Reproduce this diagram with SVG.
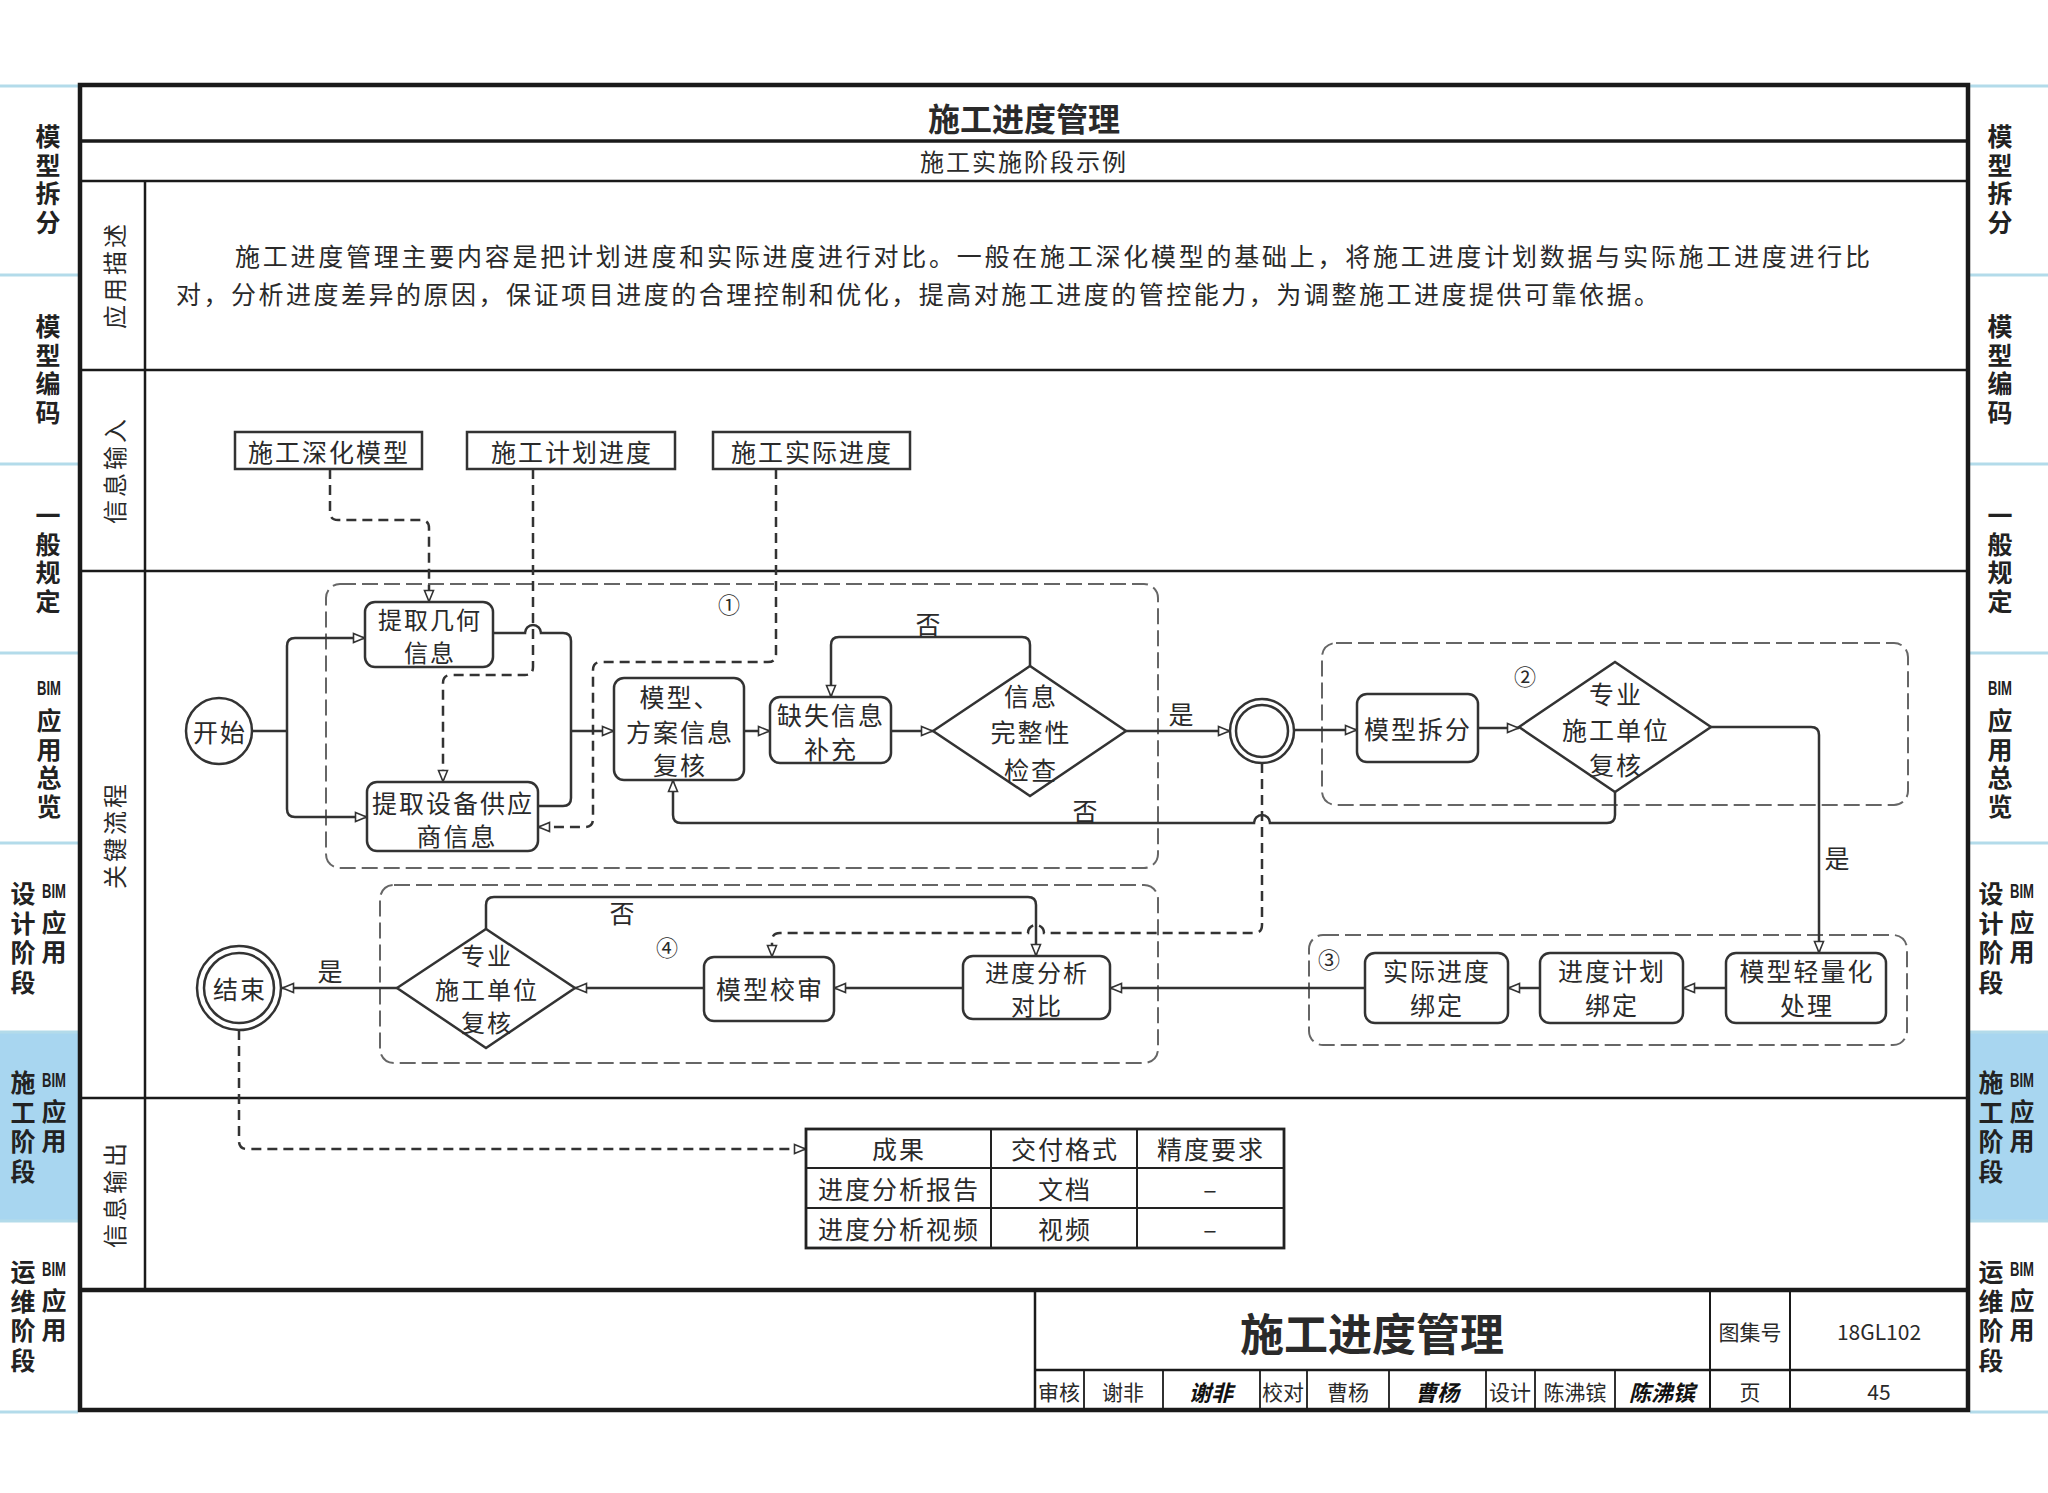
<svg xmlns="http://www.w3.org/2000/svg" width="2048" height="1493" viewBox="0 0 2048 1493">
<defs>
<marker id="ah" viewBox="0 0 14 12" refX="13" refY="6" markerWidth="14" markerHeight="12" markerUnits="userSpaceOnUse" orient="auto"><path d="M1.5,1.5 L12.5,6 L1.5,10.5 z" fill="#fff" stroke="#333" stroke-width="1.6"/></marker>
</defs>
<style>
.t{font-family:"Noto Sans CJK SC","Noto Sans",sans-serif;fill:#2a2a2a;}
.n{font-family:"Noto Sans CJK SC","Noto Sans",sans-serif;fill:#2a2a2a;font-size:25px;letter-spacing:2px;text-anchor:middle;dominant-baseline:central;}
.s{font-size:24px;}
.box{fill:#fff;stroke:#333;stroke-width:2.5;}
.ln{fill:none;stroke:#333;stroke-width:2.5;}
.dl{fill:none;stroke:#333;stroke-width:2.5;stroke-dasharray:10 6;}
.grp{fill:none;stroke:#666;stroke-width:2;stroke-dasharray:16 6;}
.fr{fill:none;stroke:#1a1a1a;}
.vt{font-family:"Noto Sans CJK SC",sans-serif;font-weight:bold;font-size:25px;fill:#222;text-anchor:middle;writing-mode:vertical-rl;letter-spacing:3.5px;}
.vt2{font-family:"Noto Sans CJK SC",sans-serif;font-weight:bold;font-size:25px;fill:#222;text-anchor:middle;writing-mode:vertical-rl;letter-spacing:4.5px;}
.bim{font-family:"Liberation Sans",sans-serif;font-weight:bold;font-size:20px;fill:#222;text-anchor:middle;dominant-baseline:central;}
.tsep{stroke:#b3dbea;stroke-width:3;}
.lbl{font-family:"Noto Sans CJK SC",sans-serif;font-size:24px;letter-spacing:3px;fill:#2a2a2a;text-anchor:middle;dominant-baseline:central;}
.tb{font-family:"Noto Sans CJK SC",sans-serif;font-size:21px;fill:#2a2a2a;text-anchor:middle;dominant-baseline:central;}
.sig{font-family:"Noto Sans CJK SC",sans-serif;font-size:22px;font-weight:bold;font-style:italic;fill:#111;text-anchor:middle;dominant-baseline:central;}
</style>
<rect x="0" y="0" width="2048" height="1493" fill="#fff"/>

<!-- side tabs -->
<g id="tabs">
<rect x="0" y="1032" width="78" height="189" fill="#a8d6f0"/>
<rect x="1970" y="1032" width="78" height="189" fill="#a8d6f0"/>
<g class="tsep">
<line x1="0" y1="86" x2="78" y2="86"/><line x1="0" y1="275" x2="78" y2="275"/><line x1="0" y1="464" x2="78" y2="464"/><line x1="0" y1="653" x2="78" y2="653"/><line x1="0" y1="843" x2="78" y2="843"/><line x1="0" y1="1032" x2="78" y2="1032"/><line x1="0" y1="1221" x2="78" y2="1221"/><line x1="0" y1="1412" x2="78" y2="1412"/>
<line x1="1970" y1="86" x2="2048" y2="86"/><line x1="1970" y1="275" x2="2048" y2="275"/><line x1="1970" y1="464" x2="2048" y2="464"/><line x1="1970" y1="653" x2="2048" y2="653"/><line x1="1970" y1="843" x2="2048" y2="843"/><line x1="1970" y1="1032" x2="2048" y2="1032"/><line x1="1970" y1="1221" x2="2048" y2="1221"/><line x1="1970" y1="1412" x2="2048" y2="1412"/>
</g>
<!-- left -->
<text class="vt" x="48" y="181">模型拆分</text>
<text class="vt" x="48" y="371">模型编码</text>
<text class="vt" x="48" y="560">一般规定</text>
<text class="bim" x="49" y="688" textLength="24" lengthAdjust="spacingAndGlyphs">BIM</text>
<text class="vt" x="49" y="765">应用总览</text>
<text class="vt2" x="23" y="940">设计阶段</text>
<text class="bim" x="54" y="891" textLength="24" lengthAdjust="spacingAndGlyphs">BIM</text>
<text class="vt2" x="54" y="939">应用</text>
<text class="vt2" x="23" y="1129">施工阶段</text>
<text class="bim" x="54" y="1080" textLength="24" lengthAdjust="spacingAndGlyphs">BIM</text>
<text class="vt2" x="54" y="1128">应用</text>
<text class="vt2" x="23" y="1318">运维阶段</text>
<text class="bim" x="54" y="1269" textLength="24" lengthAdjust="spacingAndGlyphs">BIM</text>
<text class="vt2" x="54" y="1317">应用</text>
<!-- right -->
<text class="vt" x="2000" y="181">模型拆分</text>
<text class="vt" x="2000" y="371">模型编码</text>
<text class="vt" x="2000" y="560">一般规定</text>
<text class="bim" x="2000" y="688" textLength="24" lengthAdjust="spacingAndGlyphs">BIM</text>
<text class="vt" x="2000" y="765">应用总览</text>
<text class="vt2" x="1991" y="940">设计阶段</text>
<text class="bim" x="2022" y="891" textLength="24" lengthAdjust="spacingAndGlyphs">BIM</text>
<text class="vt2" x="2022" y="939">应用</text>
<text class="vt2" x="1991" y="1129">施工阶段</text>
<text class="bim" x="2022" y="1080" textLength="24" lengthAdjust="spacingAndGlyphs">BIM</text>
<text class="vt2" x="2022" y="1128">应用</text>
<text class="vt2" x="1991" y="1318">运维阶段</text>
<text class="bim" x="2022" y="1269" textLength="24" lengthAdjust="spacingAndGlyphs">BIM</text>
<text class="vt2" x="2022" y="1317">应用</text>
</g>

<!-- frame -->
<g id="frame">
<rect class="fr" x="80" y="85" width="1888" height="1325" stroke-width="4.5"/>
<line class="fr" x1="80" y1="141" x2="1968" y2="141" stroke-width="3.5"/>
<line class="fr" x1="80" y1="181" x2="1968" y2="181" stroke-width="2.5"/>
<line class="fr" x1="145" y1="181" x2="145" y2="1290" stroke-width="2.5"/>
<line class="fr" x1="80" y1="370" x2="1968" y2="370" stroke-width="2.5"/>
<line class="fr" x1="80" y1="571" x2="1968" y2="571" stroke-width="2.5"/>
<line class="fr" x1="80" y1="1098" x2="1968" y2="1098" stroke-width="2.5"/>
<line class="fr" x1="80" y1="1290" x2="1968" y2="1290" stroke-width="4.5"/>
<text class="t" x="1024" y="131" font-size="32" font-weight="bold" text-anchor="middle">施工进度管理</text>
<text class="t" x="1024" y="171" font-size="24" letter-spacing="2" text-anchor="middle">施工实施阶段示例</text>
<text class="lbl" transform="translate(113,275) rotate(-90)">应用描述</text>
<text class="lbl" transform="translate(113,470) rotate(-90)">信息输入</text>
<text class="lbl" transform="translate(113,835) rotate(-90)">关键流程</text>
<text class="lbl" transform="translate(113,1194) rotate(-90)">信息输出</text>
<text class="t" x="235" y="266" font-size="25" textLength="1635" lengthAdjust="spacing">施工进度管理主要内容是把计划进度和实际进度进行对比。一般在施工深化模型的基础上，将施工进度计划数据与实际施工进度进行比</text>
<text class="t" x="176" y="304" font-size="25" textLength="1483" lengthAdjust="spacing">对，分析进度差异的原因，保证项目进度的合理控制和优化，提高对施工进度的管控能力，为调整施工进度提供可靠依据。</text>
</g>

<!-- title block -->
<g id="titleblock">
<line class="fr" x1="1035" y1="1290" x2="1035" y2="1410" stroke-width="2.5"/>
<line class="fr" x1="1035" y1="1370" x2="1968" y2="1370" stroke-width="2.5"/>
<line class="fr" x1="1710" y1="1290" x2="1710" y2="1410" stroke-width="2"/>
<line class="fr" x1="1790" y1="1290" x2="1790" y2="1410" stroke-width="2"/>
<g stroke="#1a1a1a" stroke-width="1.8">
<line x1="1084" y1="1370" x2="1084" y2="1410"/><line x1="1163" y1="1370" x2="1163" y2="1410"/><line x1="1260" y1="1370" x2="1260" y2="1410"/><line x1="1307" y1="1370" x2="1307" y2="1410"/><line x1="1389" y1="1370" x2="1389" y2="1410"/><line x1="1486" y1="1370" x2="1486" y2="1410"/><line x1="1535" y1="1370" x2="1535" y2="1410"/><line x1="1615" y1="1370" x2="1615" y2="1410"/>
</g>
<text class="t" x="1372" y="1332" font-size="44" font-weight="bold" text-anchor="middle" dominant-baseline="central">施工进度管理</text>
<text class="tb" x="1750" y="1331">图集号</text>
<text class="tb" x="1879" y="1331" font-family="Liberation Serif" font-size="24">18GL102</text>
<text class="tb" x="1059" y="1391">审核</text>
<text class="tb" x="1123" y="1391">谢非</text>
<text class="sig" x="1211" y="1391">谢非</text>
<text class="tb" x="1283" y="1391">校对</text>
<text class="tb" x="1348" y="1391">曹杨</text>
<text class="sig" x="1437" y="1391">曹杨</text>
<text class="tb" x="1510" y="1391">设计</text>
<text class="tb" x="1575" y="1391">陈沸镔</text>
<text class="sig" x="1662" y="1391">陈沸镔</text>
<text class="tb" x="1750" y="1391">页</text>
<text class="tb" x="1879" y="1391" font-family="Liberation Serif" font-size="24">45</text>
</g>

<!-- groups -->
<g id="groups">
<rect class="grp" x="326" y="584" width="832" height="284" rx="14"/>
<rect class="grp" x="1322" y="643" width="586" height="162" rx="14"/>
<rect class="grp" x="1309" y="935" width="598" height="110" rx="14"/>
<rect class="grp" x="380" y="885" width="778" height="178" rx="14"/>
<text class="t" x="729" y="603" font-size="22" text-anchor="middle" dominant-baseline="central">①</text>
<text class="t" x="1525" y="675" font-size="22" text-anchor="middle" dominant-baseline="central">②</text>
<text class="t" x="1329" y="958" font-size="22" text-anchor="middle" dominant-baseline="central">③</text>
<text class="t" x="667" y="946" font-size="22" text-anchor="middle" dominant-baseline="central">④</text>
</g>

<!-- connectors -->
<g id="connectors">
<path class="dl" d="M330,469 V512 Q330,520 338,520 H421 Q429,520 429,528 V602" marker-end="url(#ah)"/>
<path class="dl" d="M533,469 V667 Q533,675 525,675 H451 Q443,675 443,683 V782" marker-end="url(#ah)"/>
<path class="dl" d="M776,469 V654 Q776,662 768,662 H601 Q593,662 593,670 V819 Q593,827 585,827 H538" marker-end="url(#ah)"/>
<path class="dl" d="M1262,763 V925 Q1262,933 1254,933 H1044 A8,8 0 0 0 1028,933 H780 Q772,933 772,941 V957" marker-end="url(#ah)"/>
<path class="dl" d="M239,1030 V1141 Q239,1149 247,1149 H806" marker-end="url(#ah)"/>

<path class="ln" d="M252,731 H287"/>
<path class="ln" d="M287,731 V646 Q287,638 295,638 H365" marker-end="url(#ah)"/>
<path class="ln" d="M287,731 V809 Q287,817 295,817 H367" marker-end="url(#ah)"/>
<path class="ln" d="M493,633 H525 A8,8 0 0 1 541,633 H563 Q571,633 571,641 V731"/>
<path class="ln" d="M538,806 H563 Q571,806 571,798 V731"/>
<path class="ln" d="M571,731 H614" marker-end="url(#ah)"/>
<path class="ln" d="M744,731 H770" marker-end="url(#ah)"/>
<path class="ln" d="M891,731 H933" marker-end="url(#ah)"/>
<path class="ln" d="M1030,666 V645 Q1030,637 1022,637 H839 Q831,637 831,645 V697" marker-end="url(#ah)"/>
<path class="ln" d="M1126,731 H1230" marker-end="url(#ah)"/>
<path class="ln" d="M1294,730 H1357" marker-end="url(#ah)"/>
<path class="ln" d="M1478,728 H1519" marker-end="url(#ah)"/>
<path class="ln" d="M1711,727 H1811 Q1819,727 1819,735 V953" marker-end="url(#ah)"/>
<path class="ln" d="M1615,792 V815 Q1615,823 1607,823 H1270 A8,8 0 0 0 1254,823 H681 Q673,823 673,815 V780" marker-end="url(#ah)"/>
<path class="ln" d="M1726,988 H1683" marker-end="url(#ah)"/>
<path class="ln" d="M1540,988 H1508" marker-end="url(#ah)"/>
<path class="ln" d="M1365,988 H1110" marker-end="url(#ah)"/>
<path class="ln" d="M963,988 H834" marker-end="url(#ah)"/>
<path class="ln" d="M704,988 H575" marker-end="url(#ah)"/>
<path class="ln" d="M397,988 H282" marker-end="url(#ah)"/>
<path class="ln" d="M486,929 V905 Q486,897 494,897 H1028 Q1036,897 1036,905 V956" marker-end="url(#ah)"/>
<text class="n" x="929" y="623">否</text>
<text class="n" x="1182" y="713">是</text>
<text class="n" x="1086" y="810">否</text>
<text class="n" x="1838" y="857">是</text>
<text class="n" x="623" y="912">否</text>
<text class="n" x="331" y="970">是</text>
</g>

<!-- input nodes -->
<g id="in_model"><rect class="box" x="235" y="432" width="187" height="37"/><text class="n" x="329" y="451">施工深化模型</text></g>
<g id="in_plan"><rect class="box" x="467" y="432" width="208" height="37"/><text class="n" x="572" y="451">施工计划进度</text></g>
<g id="in_actual"><rect class="box" x="713" y="432" width="197" height="37"/><text class="n" x="812" y="451">施工实际进度</text></g>

<!-- flow nodes -->
<g id="n_start"><circle class="box" cx="219" cy="731" r="33"/><text class="n" x="220" y="731">开始</text></g>
<g id="n_geo"><rect class="box" x="365" y="602" width="128" height="65" rx="10"/><text class="n s" x="430" y="618">提取几何</text><text class="n s" x="430" y="651">信息</text></g>
<g id="n_sup"><rect class="box" x="367" y="782" width="171" height="69" rx="10"/><text class="n" x="453" y="802">提取设备供应</text><text class="n" x="457" y="835">商信息</text></g>
<g id="n_rev"><rect class="box" x="614" y="678" width="130" height="102" rx="10"/><text class="n" x="680" y="696">模型、</text><text class="n" x="680" y="731">方案信息</text><text class="n" x="680" y="764">复核</text></g>
<g id="n_miss"><rect class="box" x="770" y="697" width="121" height="66" rx="10"/><text class="n" x="831" y="714">缺失信息</text><text class="n" x="831" y="748">补充</text></g>
<g id="n_check"><polygon class="box" points="933,731 1030,666 1126,731 1030,796"/><text class="n" x="1031" y="695">信息</text><text class="n" x="1031" y="731">完整性</text><text class="n" x="1031" y="769">检查</text></g>
<g id="n_junction"><circle class="box" cx="1262" cy="731" r="32"/><circle class="box" cx="1262" cy="731" r="26"/></g>
<g id="n_split"><rect class="box" x="1357" y="694" width="121" height="68" rx="10"/><text class="n" x="1418" y="728">模型拆分</text></g>
<g id="n_review2"><polygon class="box" points="1519,727 1615,662 1711,727 1615,792"/><text class="n" x="1616" y="693">专业</text><text class="n" x="1616" y="729">施工单位</text><text class="n" x="1616" y="764">复核</text></g>
<g id="n_light"><rect class="box" x="1726" y="953" width="160" height="70" rx="10"/><text class="n" x="1807" y="970">模型轻量化</text><text class="n" x="1807" y="1004">处理</text></g>
<g id="n_planbind"><rect class="box" x="1540" y="953" width="143" height="70" rx="10"/><text class="n" x="1612" y="970">进度计划</text><text class="n" x="1612" y="1004">绑定</text></g>
<g id="n_actbind"><rect class="box" x="1365" y="953" width="143" height="70" rx="10"/><text class="n" x="1437" y="970">实际进度</text><text class="n" x="1437" y="1004">绑定</text></g>
<g id="n_compare"><rect class="box" x="963" y="956" width="147" height="63" rx="10"/><text class="n s" x="1037" y="971">进度分析</text><text class="n s" x="1037" y="1004">对比</text></g>
<g id="n_modelcheck"><rect class="box" x="704" y="957" width="130" height="64" rx="10"/><text class="n" x="770" y="988">模型校审</text></g>
<g id="n_review4"><polygon class="box" points="397,988 486,929 575,988 486,1048"/><text class="n s" x="487" y="954">专业</text><text class="n s" x="487" y="988">施工单位</text><text class="n s" x="487" y="1021">复核</text></g>
<g id="n_end"><circle class="box" cx="239" cy="988" r="42"/><circle class="box" cx="239" cy="988" r="35"/><text class="n" x="240" y="988">结束</text></g>

<!-- output table -->
<g id="out_table">
<rect x="806" y="1129" width="478" height="119" fill="#fff" stroke="#222" stroke-width="2.8"/>
<g stroke="#222" stroke-width="2">
<line x1="991" y1="1129" x2="991" y2="1248"/><line x1="1137" y1="1129" x2="1137" y2="1248"/>
<line x1="806" y1="1168" x2="1284" y2="1168"/><line x1="806" y1="1208" x2="1284" y2="1208"/>
</g>
<text class="n" x="899" y="1148">成果</text><text class="n" x="1065" y="1148">交付格式</text><text class="n" x="1211" y="1148">精度要求</text>
<text class="n" x="899" y="1188">进度分析报告</text><text class="n" x="1065" y="1188">文档</text><text class="n" x="1211" y="1188">–</text>
<text class="n" x="899" y="1228">进度分析视频</text><text class="n" x="1065" y="1228">视频</text><text class="n" x="1211" y="1228">–</text>
</g>
</svg>
